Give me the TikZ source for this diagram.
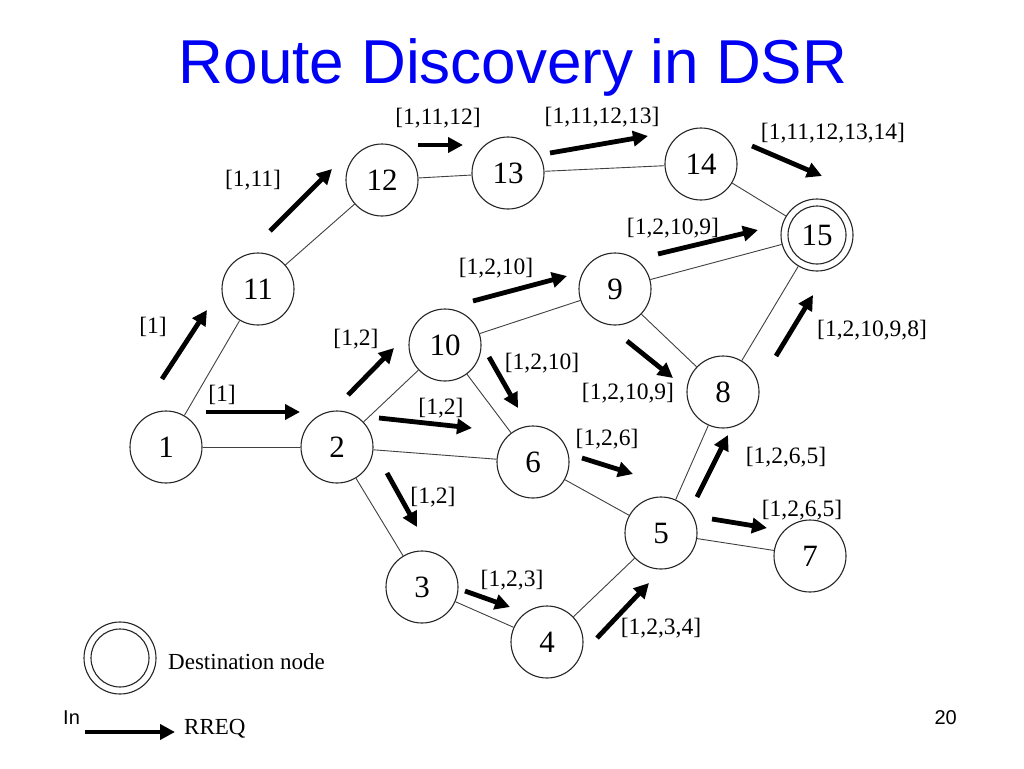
\documentclass[tikz,border=0pt]{standalone}
\usepackage{fontspec}
\setmainfont{Liberation Serif}
\newfontfamily\slidefont{Liberation Sans}
\usepackage{xcolor}
\usetikzlibrary{arrows.meta}
\definecolor{titleblue}{RGB}{0,0,245}

\begin{document}
\begin{tikzpicture}[x=1pt,y=-1pt,
		nd/.style={draw=black!85,line width=1.1pt,circle,minimum size=72pt,inner sep=0pt,font=\fontsize{31}{32}\selectfont},
		lnk/.style={draw=black!75,line width=0.9pt},
		rreq/.style={line width=4.8pt,-{Triangle[length=15pt,width=15pt]}},
		lbl/.style={font=\fontsize{23.5}{25}\selectfont,inner sep=0pt}]
			\useasboundingbox[fill=white] (0,0) rectangle (1024,768);
			\node[text=titleblue,font=\slidefont\fontsize{62}{70}\selectfont,anchor=base] (title) at (513,83) {Route Discovery in DSR};
			\node[nd] (n1) at (166,447) {1};
			\node[nd] (n2) at (337,447) {2};
			\node[nd] (n3) at (422,587) {3};
			\node[nd] (n4) at (547,642) {4};
			\node[nd] (n5) at (661,533) {5};
			\node[nd] (n6) at (533,462) {6};
			\node[nd] (n7) at (810,556) {7};
			\node[nd] (n8) at (723,392) {8};
			\node[nd] (n9) at (615,289) {9};
			\node[nd] (n10) at (445,345) {10};
			\node[nd] (n11) at (258,289) {11};
			\node[nd] (n12) at (382,180) {12};
			\node[nd] (n13) at (508,173) {13};
			\node[nd] (n14) at (701,164) {14};
			\node[nd] (n15) at (817,235) {15};
			\draw[line width=1.1pt,black!85] (n15.center) circle[radius=29pt];
			\draw[lnk] (n1)--(n2);
			\draw[lnk] (n1)--(n11);
			\draw[lnk] (n11)--(n12);
			\draw[lnk] (n12)--(n13);
			\draw[lnk] (n13)--(n14);
			\draw[lnk] (n14)--(n15);
			\draw[lnk] (n2)--(n10);
			\draw[lnk] (n2)--(n6);
			\draw[lnk] (n2)--(n3);
			\draw[lnk] (n10)--(n9);
			\draw[lnk] (n10)--(n6);
			\draw[lnk] (n9)--(n15);
			\draw[lnk] (n9)--(n8);
			\draw[lnk] (n8)--(n15);
			\draw[lnk] (n6)--(n5);
			\draw[lnk] (n5)--(n8);
			\draw[lnk] (n5)--(n7);
			\draw[lnk] (n3)--(n4);
			\draw[lnk] (n4)--(n5);
			\draw[rreq] (162,379)--(207,310);
			\draw[rreq] (206,412)--(300,412);
			\draw[rreq] (270,231)--(332,169);
			\draw[rreq] (418,145)--(463,145);
			\draw[rreq] (550,153)--(648,136);
			\draw[rreq] (752,146)--(822,176);
			\draw[rreq] (658,254)--(758,230);
			\draw[rreq] (627,341)--(673,378);
			\draw[rreq] (776,356)--(813,295);
			\draw[rreq] (348,395)--(394,348);
			\draw[rreq] (473,301)--(567,276);
			\draw[rreq] (489,357)--(518,408);
			\draw[rreq] (379,418)--(472,428);
			\draw[rreq] (387,473)--(417,527);
			\draw[rreq] (465,591)--(510,607);
			\draw[rreq] (582,458)--(633,474);
			\draw[rreq] (697,497)--(728,435);
			\draw[rreq] (712,519)--(767,528);
			\draw[rreq] (597,638)--(649,583);
			\node[lbl] (l11) at (153,327) {[1]};
			\node[lbl] (l2) at (222,395) {[1]};
			\node[lbl] (l12) at (253,180) {[1,11]};
			\node[lbl] (l13) at (438,118) {[1,11,12]};
			\node[lbl] (l14) at (602,117) {[1,11,12,13]};
			\node[lbl] (l15a) at (833,133) {[1,11,12,13,14]};
			\node[lbl] (l15b) at (673,228) {[1,2,10,9]};
			\node[lbl] (l8a) at (628,393) {[1,2,10,9]};
			\node[lbl] (l15c) at (872,330) {[1,2,10,9,8]};
			\node[lbl] (l10) at (356,339) {[1,2]};
			\node[lbl] (l9) at (496,268) {[1,2,10]};
			\node[lbl] (l6a) at (542,363) {[1,2,10]};
			\node[lbl] (l6b) at (441,408) {[1,2]};
			\node[lbl] (l3) at (433,497) {[1,2]};
			\node[lbl] (l4) at (512,580) {[1,2,3]};
			\node[lbl] (l5a) at (607,439) {[1,2,6]};
			\node[lbl] (l8b) at (786,457) {[1,2,6,5]};
			\node[lbl] (l7) at (802,510) {[1,2,6,5]};
			\node[lbl] (l5b) at (661,628) {[1,2,3,4]};
			\node[nd] (leg) at (120,658) {};
			\draw[line width=1.1pt,black!85] (leg.center) circle[radius=29pt];
			\node[lbl,font=\fontsize{23}{24}\selectfont,anchor=west] (legdest) at (168,662) {Destination node};
			\draw[rreq] (85,732)--(175,732);
			\node[lbl,font=\fontsize{23}{24}\selectfont,anchor=west] (legreq) at (184,729) {RREQ};
			\node[font=\slidefont\fontsize{20}{22}\selectfont,anchor=base west,inner sep=0pt] (foot) at (63,724) {In};
			\node[font=\slidefont\fontsize{20}{22}\selectfont,anchor=base east,inner sep=0pt] (page) at (957,724) {20};
		\end{tikzpicture}
\end{document}
